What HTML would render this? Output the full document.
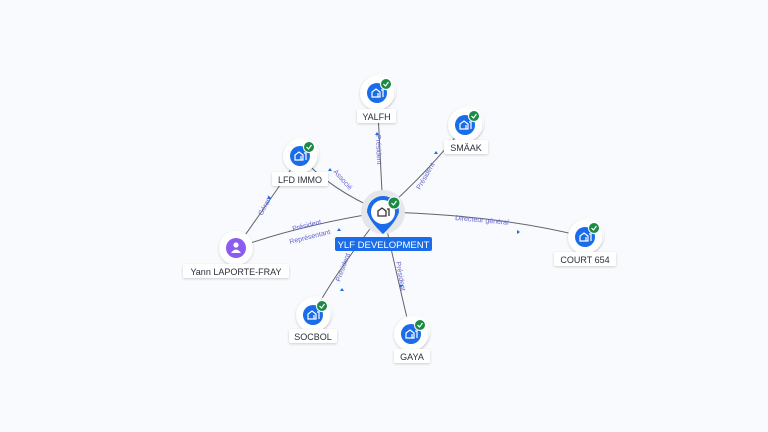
<!DOCTYPE html>
<html><head><meta charset="utf-8"><style>
html,body{margin:0;padding:0;background:#f8fafd;width:768px;height:432px;overflow:hidden}
text{font-family:"Liberation Sans",sans-serif}
</style></head><body>
<svg width="768" height="432" viewBox="0 0 768 432" xmlns="http://www.w3.org/2000/svg">
<defs>
<filter id="sh" x="-50%" y="-50%" width="200%" height="200%"><feDropShadow dx="0" dy="1" stdDeviation="1.2" flood-color="#000" flood-opacity="0.18"/></filter>
<g id="co">
<circle cx="2" cy="-2" r="17" fill="#fff" filter="url(#sh)" opacity="0.8"/>
<circle r="17" fill="#fff" filter="url(#sh)"/>
<circle r="10" fill="#1a6ce8"/>
<path d="M-5 4 V-1 L-1 -4 L3 -1 V4 Z M1 4 V0 M4 -3 H6 V4" fill="none" stroke="#fff" stroke-width="1.2"/>
<circle cx="9" cy="-9" r="5.5" fill="#1a8a45" stroke="#fff" stroke-width="1"/>
<path d="M6.5 -9 L8.5 -7 L11.5 -11" fill="none" stroke="#fff" stroke-width="1.2"/>
</g>
</defs>
<g stroke="#5e6470" stroke-width="1" fill="none">
<path d="M383 212 L377 93"/>
<path d="M383 212 Q430 170 465 125"/>
<path d="M383 212 Q330 190 300 156"/>
<path d="M383 212 Q300 225 236 248"/>
<path d="M383 212 Q500 215 585 237"/>
<path d="M383 212 Q330 280 313 315"/>
<path d="M383 212 Q400 290 411 334"/>
<path d="M300 156 Q270 200 236 248"/>
</g>
<g fill="#6466d0" font-size="7">
<text transform="translate(376,135) rotate(88)">Président</text>
<text transform="translate(420,190) rotate(-60)">Président</text>
<text transform="translate(333,172) rotate(48)">Associé</text>
<text transform="translate(262,216) rotate(-62)">Gérant</text>
<text transform="translate(293,231) rotate(-14)">Président</text>
<text transform="translate(290,244) rotate(-14)">Représentant</text>
<text transform="translate(455,220) rotate(5)">Directeur général</text>
<text transform="translate(340,282) rotate(-70)">Président</text>
<text transform="translate(396,262) rotate(80)">Président</text>
</g>
<g fill="#1a6ce8">
<path d="M377 132 l-2 3 h4z"/><path d="M436 151 l-2 3 h4z"/><path d="M330 168 l-2 3 h4z"/>
<path d="M269 196 l-2 3 h4z"/><path d="M339 228 l-2 3 h4z"/><path d="M520 232 l-3 -2 v4z"/>
<path d="M342 288 l-2 3 h4z"/><path d="M401 288 l-2 -3 h4z"/>
</g>
<circle cx="383" cy="212" r="22" fill="#e4e6ea"/>
<path d="M367 212 A16 16 0 1 1 399 212 Q396 222 383 234 Q370 222 367 212Z" fill="#1a6ce8"/>
<circle cx="383" cy="212" r="12" fill="#fff"/>
<path d="M378 216 V211 L382 208 L386 211 V216 Z M387 209 H389 V216" fill="none" stroke="#333" stroke-width="1.3"/>
<circle cx="394" cy="203" r="6" fill="#1a8a45" stroke="#fff" stroke-width="1"/>
<path d="M391.5 203 L393.5 205 L396.5 201" fill="none" stroke="#fff" stroke-width="1.2"/>
<rect x="335" y="237" width="97" height="14" rx="2" fill="#1a6ce8"/>
<text x="383.5" y="248" font-size="9.5" fill="#fff" text-anchor="middle">YLF DEVELOPMENT</text>
<use href="#co" x="377" y="93"/><use href="#co" x="465" y="125"/><use href="#co" x="300" y="156"/>
<use href="#co" x="585" y="237"/><use href="#co" x="313" y="315"/><use href="#co" x="411" y="334"/>
<circle cx="236" cy="248" r="17" fill="#fff" filter="url(#sh)"/>
<circle cx="236" cy="248" r="10" fill="#8c5cf0"/>
<circle cx="236" cy="245" r="2.6" fill="#fff"/><path d="M231 253 Q236 246 241 253Z" fill="#fff"/>
<g font-size="9" fill="#2a2f3a" text-anchor="middle">
<rect x="357" y="109" width="39" height="14" rx="2" fill="#fff" filter="url(#sh)"/><text x="376.5" y="120">YALFH</text>
<rect x="444" y="140" width="44" height="14" rx="2" fill="#fff" filter="url(#sh)"/><text x="466" y="151">SMÄAK</text>
<rect x="272" y="172" width="56" height="14" rx="2" fill="#fff" filter="url(#sh)"/><text x="300" y="183">LFD IMMO</text>
<rect x="183" y="264" width="106" height="14" rx="2" fill="#fff" filter="url(#sh)"/><text x="236" y="275">Yann LAPORTE-FRAY</text>
<rect x="554" y="252" width="62" height="14" rx="2" fill="#fff" filter="url(#sh)"/><text x="585" y="263">COURT 654</text>
<rect x="289" y="329" width="48" height="14" rx="2" fill="#fff" filter="url(#sh)"/><text x="313" y="340">SOCBOL</text>
<rect x="394" y="349" width="36" height="14" rx="2" fill="#fff" filter="url(#sh)"/><text x="412" y="360">GAYA</text>
</g>
</svg>
</body></html>
